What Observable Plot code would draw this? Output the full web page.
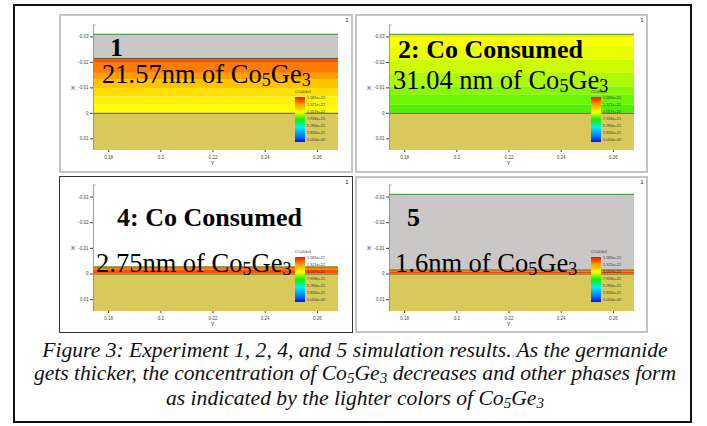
<!DOCTYPE html>
<html><head><meta charset="utf-8">
<script src="https://cdn.jsdelivr.net/npm/d3@7"></script>
<script src="https://cdn.jsdelivr.net/npm/@observablehq/plot@0.6"></script>
<style>
body{margin:0;background:#fff;}
#root{position:relative;width:707px;height:426px;overflow:hidden;background:#fff;}
.frame{position:absolute;left:13px;top:4px;width:679px;height:419px;border:2px solid #111;box-sizing:border-box;}
.panel{position:absolute;background:#fff;}
.panel svg{display:block;}
.pborder{position:absolute;box-sizing:border-box;pointer-events:none;}
.cap{position:absolute;left:0;top:339px;width:710px;text-align:center;font-family:"Liberation Serif","Times New Roman",serif;font-style:italic;font-size:21.6px;line-height:23px;color:#111;}
.s{font-size:0.7em;position:relative;top:0.22em;}
</style></head>
<body><div id="root"><div class="frame"></div></div>
<script>
// ---- data ----
const legendValues = [1.585e22, 1.321e22, 1.057e22, 7.926e21, 5.284e21, 2.642e21, 0];
const legendLabels = ["1.585e+22","1.321e+22","1.057e+22","7.926e+21","5.284e+21","2.642e+21","0.000e+00"];
const xTicks = [0.18, 0.2, 0.22, 0.24, 0.26];
const yTicks = [-0.03, -0.02, -0.01, 0, 0.01];
const xDomain = [0.1742, 0.2681];
const yDomain = [-0.0345, 0.0146];
const topOfCo = -0.03104;
const headings = ["1", "2: Co Consumed", "4: Co Consumed", "5"];
const amountLabels = ["21.57nm of ", "31.04 nm of ", "2.75nm of ", "1.6nm of "];
const coPresent = [true, false, false, true];
const exp1Edges = [-0.02157, -0.01964, -0.01569, -0.01304, -0.00976, -0.00644, -0.00316, 0];
const exp1Conc = [1.466e22, 1.387e22, 1.321e22, 1.221e22, 1.144e22, 1.089e22, 1.06e22];
const exp2Edges = [-0.03104, -0.02953, -0.0262, -0.02095, -0.0157, -0.0104, -0.0071, -0.0032, 0];
const exp2Conc = [1.12e22, 1.057e22, 1.033e22, 9.99e21, 9.67e21, 9.25e21, 8.93e21, 8.59e21];
const exp4Edges = [-0.00275, -0.00146, 0];
const exp4Conc = [1.39e22, 1.47e22];
const exp5Edges = [-0.0016, -0.0008, 0];
const exp5Conc = [1.42e22, 1.5e22];
const bandEdges = [exp1Edges, exp2Edges, exp4Edges, exp5Edges];
const bandConc = [exp1Conc, exp2Conc, exp4Conc, exp5Conc];

// ---- styles ----
const colorRange = ["#0010ff", "#0090ff", "#00eef0", "#10f000", "#ffff00", "#ffa000", "#ff1000"];
const ascending = legendValues.slice().reverse();
const boxes = [[59, 14, 294, 159], [355, 14, 293, 159], [59, 176, 294, 157], [355, 176, 293, 157]];
const root = document.getElementById("root");
const serif = "Liberation Serif, Times New Roman, serif";

function drawPanel(i) {
  const [left, top, Wd, Ht] = boxes[i];
  const upper = i < 2;
  const mt = upper ? 11 : 9, mb = upper ? 23 : 22;
  const edges = bandEdges[i], conc = bandConc[i];
  const bands = conc.map((c, k) => ({y1: edges[k], y2: edges[k + 1], c}));
  const xa = () => xDomain[0], xb = () => xDomain[1];
  const marks = [];
  if (coPresent[i]) marks.push(Plot.rect([{y1: topOfCo, y2: edges[0]}], {x1: xa, x2: xb, y1: "y1", y2: "y2", fill: "#cac7c7"}));
  marks.push(Plot.rect(bands, {x1: xa, x2: xb, y1: "y1", y2: "y2", fill: "c"}));
  marks.push(Plot.rect([{y1: 0, y2: yDomain[1]}], {x1: xa, x2: xb, y1: "y1", y2: "y2", fill: "#d9c95b"}));
  const greenRules = [];
  if (coPresent[i] || edges[0] === topOfCo) greenRules.push(topOfCo);
  if (!coPresent[i] && edges[0] !== topOfCo) greenRules.push(edges[0]);
  const darkRules = [0];
  if (coPresent[i]) { if (i === 0) darkRules.push(edges[0]); else greenRules.push(edges[0]); }
  marks.push(Plot.ruleY(greenRules, {x1: xa, x2: xb, stroke: "#3f9a3f", strokeWidth: 1}));
  marks.push(Plot.ruleY(darkRules, {x1: xa, x2: xb, stroke: "#56693a", strokeWidth: 1}));
  marks.push(Plot.ruleX([xDomain[0]], {stroke: "#8a8a8a", strokeWidth: 0.8}));

  const plot = Plot.plot({
    width: Wd, height: Ht,
    marginLeft: 34, marginRight: Wd - 279, marginTop: mt, marginBottom: mb,
    style: {fontSize: "4.5px", fontFamily: "Liberation Sans, Arial, sans-serif", background: "transparent", color: "#444"},
    x: {domain: xDomain, ticks: xTicks, tickFormat: d => String(d), tickSize: 2, tickPadding: 3, label: null},
    y: {domain: yDomain, reverse: true, ticks: yTicks, tickFormat: d => d === 0 ? "0" : d.toFixed(2), tickSize: 3, tickPadding: 2, label: null},
    color: {type: "linear", domain: ascending, range: colorRange, interpolate: "rgb"},
    marks
  });

  const div = document.createElement("div");
  div.className = "panel";
  div.style.left = left + "px"; div.style.top = top + "px";
  div.style.width = Wd + "px"; div.style.height = Ht + "px";
  div.appendChild(plot);
  root.appendChild(div);

  const svg = d3.select(plot);
  // axis decorations
  svg.append("line").attr("x1", 34).attr("x2", 36.5).attr("y1", mt).attr("y2", mt).attr("stroke", "#8a8a8a").attr("stroke-width", 0.8);
  svg.append("text").attr("x", 14).attr("y", mt + 65).attr("font-size", 6).attr("fill", "#333").attr("text-anchor", "middle").text("X");
  const xs = d3.scaleLinear().domain(xDomain).range([34, 279]);
  svg.append("text").attr("x", xs(0.22)).attr("y", Ht - mb + 15).attr("font-size", 6).attr("fill", "#333").attr("text-anchor", "middle").text("Y");
  svg.append("text").attr("x", Wd - 6).attr("y", 8).attr("font-size", 6).attr("fill", "#222").attr("text-anchor", "middle").text("1");

  // legend (gradient stops in increasing offset order: top = max)
  const gid = "grad" + i;
  const grad = svg.append("defs").append("linearGradient").attr("id", gid).attr("x1", 0).attr("x2", 0).attr("y1", 0).attr("y2", 1);
  const vmax = legendValues[0];
  legendValues.forEach((v, k) => grad.append("stop").attr("offset", 1 - v / vmax).attr("stop-color", colorRange[colorRange.length - 1 - k]));
  const bx = 236, by = mt + 72, bh = 45;
  const lg = svg.append("g").attr("font-family", "Liberation Sans, Arial, sans-serif").attr("fill", "#333").attr("font-size", 3.8).attr("text-anchor", "start");
  const title = lg.append("text").attr("x", bx).attr("y", by - 4);
  title.append("tspan").text("CCo");
  title.append("tspan").attr("font-size", 3).text("5");
  title.append("tspan").text("Ge");
  title.append("tspan").attr("font-size", 3).text("3");
  lg.append("rect").attr("x", bx).attr("y", by).attr("width", 10).attr("height", bh).attr("fill", `url(#${gid})`);
  legendLabels.forEach((t, k) => lg.append("text").attr("x", bx + 12).attr("y", by + 2 + k * (bh - 3) / 6).text(t));

  // annotations
  const ann = svg.append("g").attr("font-family", serif).attr("fill", "#000").attr("text-anchor", "start");
  const headPos = [[51, 42], [43, 44], [58, 50], [52, 50]][i];
  ann.append("text").attr("x", headPos[0]).attr("y", headPos[1]).attr("font-weight", "bold").attr("font-size", 26).text(headings[i]);
  const amtPos = [[43, 69], [38, 75], [37, 96], [40, 96]][i];
  const t = ann.append("text").attr("x", amtPos[0]).attr("y", amtPos[1]).attr("font-size", 26.5);
  t.append("tspan").text(amountLabels[i] + "Co");
  t.append("tspan").attr("font-size", 18).attr("dy", 3).text("5");
  t.append("tspan").attr("dy", -3).text("Ge");
  t.append("tspan").attr("font-size", 18).attr("dy", 3).text("3");

  const b = document.createElement("div");
  b.className = "pborder";
  b.style.left = left + "px"; b.style.top = top + "px";
  b.style.width = Wd + "px"; b.style.height = Ht + "px";
  b.style.border = i === 2 ? "1.5px solid #333" : "2px solid #c4c4c4";
  root.appendChild(b);
}
[0, 1, 2, 3].forEach(drawPanel);

const cap = document.createElement("div");
cap.className = "cap";
cap.innerHTML = 'Figure 3: Experiment 1, 2, 4, and 5 simulation results. As the germanide<br>' +
  'gets thicker, the concentration of Co<span class="s">5</span>Ge<span class="s">3</span> decreases and other phases form<br>' +
  'as indicated by the lighter colors of Co<span class="s">5</span>Ge<span class="s">3</span>';
root.appendChild(cap);
</script>
</body></html>
